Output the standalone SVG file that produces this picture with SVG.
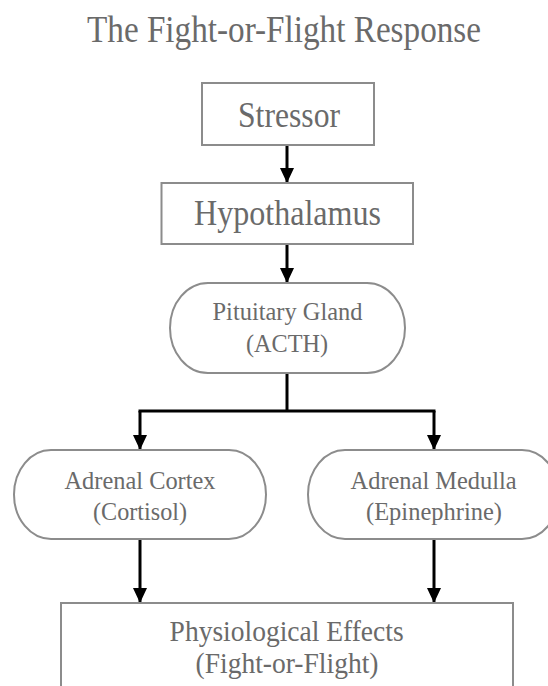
<svg xmlns="http://www.w3.org/2000/svg" width="548" height="686" viewBox="0 0 548 686">
<style>
.box{fill:#fff;stroke:#8c8c8c;stroke-width:2}
.t{font-family:"Liberation Serif","Times New Roman",serif;fill:#6a6a6a;text-anchor:middle}
.c{stroke:#000;stroke-width:3;fill:none}
</style>
<defs>
<marker id="ah" markerUnits="userSpaceOnUse" markerWidth="16" markerHeight="16" viewBox="0 0 16 16" refX="15" refY="8" orient="auto">
<path d="M0,1 L15,8 L0,15 Z" fill="#000"/>
</marker>
</defs>
<rect width="548" height="686" fill="#fff"/>
<text class="t" x="284" y="42" font-size="38" textLength="394" lengthAdjust="spacingAndGlyphs">The Fight-or-Flight Response</text>
<g id="connectors">
<path class="c" d="M287,145 V183" marker-end="url(#ah)"/>
<path class="c" d="M287,244 V283" marker-end="url(#ah)"/>
<path class="c" d="M287,373 V411"/>
<path class="c" d="M140,411 H434" stroke-linecap="square"/>
<path class="c" d="M140,411 V450" marker-end="url(#ah)"/>
<path class="c" d="M434,411 V450" marker-end="url(#ah)"/>
<path class="c" d="M140,539 V603" marker-end="url(#ah)"/>
<path class="c" d="M434,539 V603" marker-end="url(#ah)"/>
</g>
<g id="stressor">
<rect class="box" x="202" y="83" width="172" height="62"/>
<text class="t" x="289" y="127" font-size="36" textLength="102" lengthAdjust="spacingAndGlyphs">Stressor</text>
</g>
<g id="hypothalamus">
<rect class="box" x="161.5" y="183" width="251.5" height="61"/>
<text class="t" x="287.5" y="225" font-size="35" textLength="187" lengthAdjust="spacingAndGlyphs">Hypothalamus</text>
</g>
<g id="pituitary">
<rect class="box" x="170" y="283" width="235" height="90" rx="38" ry="45"/>
<text class="t" x="287.5" y="319.5" font-size="26" textLength="150" lengthAdjust="spacingAndGlyphs">Pituitary Gland</text>
<text class="t" x="287" y="352" font-size="26" textLength="82" lengthAdjust="spacingAndGlyphs">(ACTH)</text>
</g>
<g id="cortex">
<rect class="box" x="14" y="450" width="252" height="89" rx="37" ry="44.5"/>
<text class="t" x="140" y="488.5" font-size="26" textLength="151" lengthAdjust="spacingAndGlyphs">Adrenal Cortex</text>
<text class="t" x="140" y="519.5" font-size="26" textLength="94" lengthAdjust="spacingAndGlyphs">(Cortisol)</text>
</g>
<g id="medulla">
<rect class="box" x="308" y="450" width="251" height="89" rx="37" ry="44.5"/>
<text class="t" x="433.6" y="488.5" font-size="26" textLength="166" lengthAdjust="spacingAndGlyphs">Adrenal Medulla</text>
<text class="t" x="434" y="519.5" font-size="26" textLength="136" lengthAdjust="spacingAndGlyphs">(Epinephrine)</text>
</g>
<g id="effects">
<rect class="box" x="61" y="603" width="452" height="100"/>
<text class="t" x="286.6" y="641" font-size="29" textLength="234" lengthAdjust="spacingAndGlyphs">Physiological Effects</text>
<text class="t" x="287" y="673" font-size="29" textLength="183" lengthAdjust="spacingAndGlyphs">(Fight-or-Flight)</text>
</g>
</svg>
